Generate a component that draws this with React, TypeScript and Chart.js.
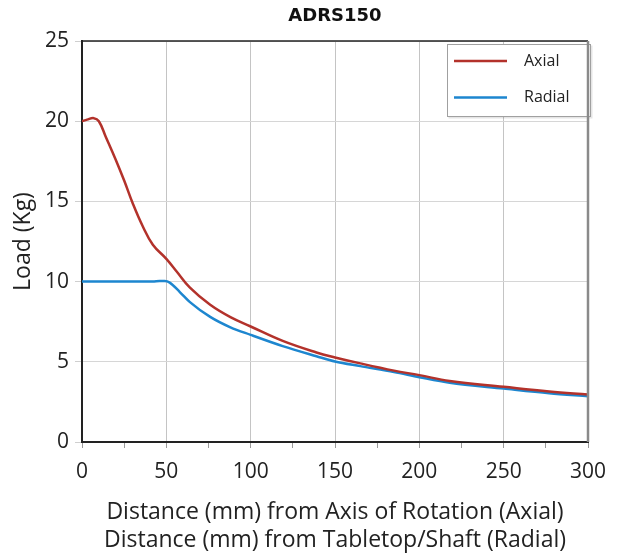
import React, { useEffect, useRef } from "react";
import { Chart, registerables } from "chart.js";

Chart.register(...registerables);

const chartTitle = "ADRS150";
const seriesNames = ["Axial", "Radial"];
const axialDistances = [0, 3, 7, 10, 14, 20, 25, 30, 36, 42, 50, 56, 64, 76, 88, 100, 119, 139, 150, 165, 185, 200, 218, 250, 277, 300];
const axialLoad = [20.0, 20.1, 20.19, 20.0, 19.05, 17.6, 16.3, 14.9, 13.45, 12.3, 11.42, 10.65, 9.62, 8.55, 7.78, 7.2, 6.3, 5.58, 5.27, 4.9, 4.45, 4.17, 3.8, 3.44, 3.15, 2.96];
const radialDistances = [0, 10, 20, 30, 42, 46, 49, 52, 58, 64, 76, 88, 100, 119, 139, 150, 165, 185, 200, 218, 250, 277, 300];
const radialLoad = [10.0, 10.0, 10.0, 10.0, 10.0, 10.03, 10.03, 9.94, 9.35, 8.72, 7.8, 7.15, 6.68, 5.98, 5.35, 5.02, 4.73, 4.36, 4.04, 3.69, 3.33, 3.04, 2.85];
const xLabelStep = 50;
const xMinorStep = 25;
const yStep = 5;
const xRange = [0, 300];
const yRange = [0, 25];
const xTitle = [
  "Distance (mm) from Axis of Rotation (Axial)",
  "Distance (mm) from Tabletop/Shaft (Radial)",
];
const yTitle = "Load (Kg)";
const colors = ["#b3322b", "#1d86cf"];

const FONT = '"Open Sans", "Noto Sans", sans-serif';

const framePlugin = {
  id: "frameLegend",
  afterDraw(chart: any) {
    const { ctx, chartArea } = chart;
    const { left, right, top, bottom } = chartArea;
    ctx.save();
    // legend box
    const bw = 144;
    const bh = 73;
    const bx = right - 141;
    const by = top + 3;
    ctx.fillStyle = "rgba(0,0,0,0.10)";
    ctx.fillRect(bx + 1.5, by + 1.5, bw, bh);
    ctx.fillStyle = "#ffffff";
    ctx.fillRect(bx, by, bw, bh);
    ctx.strokeStyle = "#a0a0a0";
    ctx.lineWidth = 1;
    ctx.strokeRect(bx + 0.5, by + 0.5, bw - 1, bh - 1);
    chart.data.datasets.forEach((ds: any, i: number) => {
      const y = by + 17 + i * 36.5;
      ctx.strokeStyle = ds.borderColor;
      ctx.lineWidth = 2.5;
      ctx.beginPath();
      ctx.moveTo(bx + 7, y);
      ctx.lineTo(bx + 60, y);
      ctx.stroke();
      ctx.fillStyle = "#222";
      ctx.font = `16px ${FONT}`;
      ctx.textBaseline = "middle";
      ctx.textAlign = "left";
      ctx.fillText(ds.label, bx + 77, y);
    });
    // top border
    ctx.strokeStyle = "#222";
    ctx.lineWidth = 1.5;
    ctx.beginPath();
    ctx.moveTo(left, top);
    ctx.lineTo(right, top);
    ctx.stroke();
    // right border
    ctx.strokeStyle = "#8a8a8a";
    ctx.lineWidth = 2.5;
    ctx.beginPath();
    ctx.moveTo(right, top);
    ctx.lineTo(right, bottom);
    ctx.stroke();
    ctx.restore();
  },
};

export default function App() {
  const ref = useRef<HTMLCanvasElement | null>(null);

  useEffect(() => {
    if (!ref.current) return;
    const mk = (xs: number[], vals: number[]) => xs.map((d, i) => ({ x: d, y: vals[i] }));
    const chart = new Chart(ref.current, {
      type: "line",
      data: {
        datasets: [
          {
            label: seriesNames[0],
            data: mk(axialDistances, axialLoad),
            borderColor: colors[0],
            backgroundColor: colors[0],
            borderWidth: 2.5,
            pointRadius: 0,
            tension: 0.4,
          },
          {
            label: seriesNames[1],
            data: mk(radialDistances, radialLoad),
            borderColor: colors[1],
            backgroundColor: colors[1],
            borderWidth: 2.5,
            pointRadius: 0,
            cubicInterpolationMode: "monotone",
          },
        ],
      },
      options: {
        animation: false,
        responsive: true,
        maintainAspectRatio: false,
        layout: { padding: { top: 0, right: 35, bottom: 0, left: 0 } },
        plugins: {
          legend: { display: false },
          tooltip: { enabled: false },
          title: {
            display: true,
            text: chartTitle,
            fullSize: false,
            color: "#111",
            font: { family: '"DejaVu Sans", sans-serif', size: 18, weight: "bold", lineHeight: 1.2 },
            padding: { top: 5.2, bottom: 14.2 },
          },
        },
        scales: {
          x: {
            type: "linear",
            min: xRange[0],
            max: xRange[1],
            afterFit: (s: any) => {
              s.height = 114;
            },
            ticks: {
              stepSize: xMinorStep,
              autoSkip: false,
              maxRotation: 0,
              padding: 11,
              color: "#222",
              font: { family: FONT, size: 21 },
              callback: (v: any) => (Number(v) % xLabelStep === 0 ? String(v) : ""),
            },
            grid: {
              color: (c: any) => (c.tick && c.tick.value % xLabelStep === 0 ? "#c4c4c4" : "rgba(0,0,0,0)"),
              tickColor: "#9a9a9a",
              tickLength: 6,
              lineWidth: 1,
            },
            border: { display: true, color: "#222", width: 2 },
            title: {
              display: true,
              text: xTitle,
              color: "#222",
              font: { family: FONT, size: 23, lineHeight: 1.2174 },
              padding: { top: 0, bottom: 2 },
            },
          },
          y: {
            type: "linear",
            min: yRange[0],
            max: yRange[1],
            afterFit: (s: any) => {
              s.width = 82;
            },
            ticks: {
              stepSize: yStep,
              padding: 6,
              color: "#222",
              font: { family: FONT, size: 21 },
            },
            grid: {
              color: "#d6d6d6",
              tickColor: "#cfcfcf",
              tickLength: 7,
              lineWidth: 1,
            },
            border: { display: true, color: "#222", width: 2 },
            title: {
              display: true,
              text: yTitle,
              color: "#222",
              font: { family: FONT, size: 23, lineHeight: 1.2 },
              padding: { top: 10, bottom: 0 },
            },
          },
        },
      },
      plugins: [framePlugin],
    } as any);
    return () => chart.destroy();
  }, []);

  return (
    <div style={{ position: "fixed", left: 0, top: 0, width: 623, height: 556, background: "#fff" }}>
      <canvas ref={ref} />
    </div>
  );
}
